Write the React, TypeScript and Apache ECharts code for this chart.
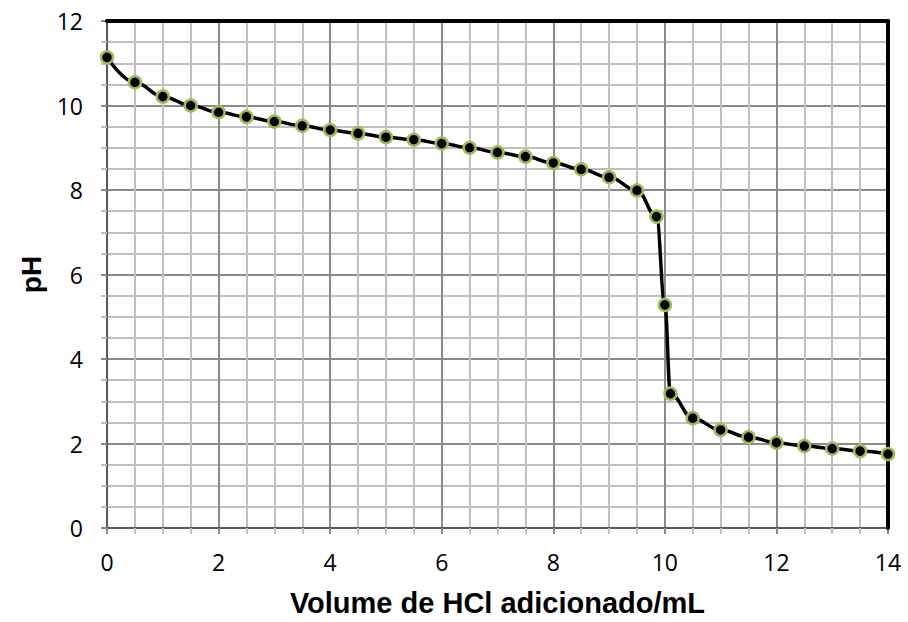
import React, { useEffect, useRef } from "react";
import * as echarts from "echarts";

const volumes = [0, 0.5, 1, 1.5, 2, 2.5, 3, 3.5, 4, 4.5, 5, 5.5, 6, 6.5, 7, 7.5, 8, 8.5, 9, 9.5, 9.85, 10, 10.1, 10.5, 11, 11.5, 12, 12.5, 13, 13.5, 14];
const phValues = [11.14, 10.55, 10.21, 10.0, 9.84, 9.73, 9.62, 9.52, 9.42, 9.34, 9.25, 9.19, 9.1, 9.0, 8.89, 8.79, 8.64, 8.49, 8.3, 7.99, 7.37, 5.28, 3.18, 2.6, 2.32, 2.15, 2.02, 1.94, 1.88, 1.82, 1.75];
const xTitle = "Volume de HCl adicionado/mL";
const yTitle = "pH";

export default function App() {
  const ref = useRef<HTMLDivElement>(null);
  useEffect(() => {
    if (!ref.current) return;
    const chart = echarts.init(ref.current, null, { renderer: "svg" });
    const labelFont = { fontFamily: "Open Sans", fontSize: 23, color: "#000" };
    const major = "#8a8a8a";
    const minor = "#bfbfbf";
    chart.setOption({
      animation: false,
      backgroundColor: "#fff",
      grid: { left: 107, top: 21, right: 20, bottom: 90, containLabel: false },
      xAxis: [
        {
          type: "value",
          min: 0,
          max: 14,
          interval: 2,
          position: "bottom",
          axisLine: { show: true, onZero: false, lineStyle: { color: "#595959", width: 2 } },
          axisTick: { show: true, inside: false, length: 6, lineStyle: { color: major, width: 2 } },
          minorTick: { show: true, splitNumber: 4, length: 6, lineStyle: { color: minor, width: 2 } },
          splitLine: { show: true, lineStyle: { color: major, width: 2 } },
          minorSplitLine: { show: true, lineStyle: { color: minor, width: 2 } },
          axisLabel: { ...labelFont, margin: 22 },
          name: xTitle,
          nameLocation: "middle",
          nameGap: 60,
          nameTextStyle: { fontFamily: "Liberation Sans", fontWeight: "bold", fontSize: 29, color: "#000" },
        },
        {
          type: "value",
          min: 0,
          max: 14,
          interval: 2,
          position: "top",
          z: 5,
          axisLine: { show: true, onZero: false, lineStyle: { color: "#000", width: 4 } },
          axisTick: { show: false },
          axisLabel: { show: false },
          splitLine: { show: false },
        },
      ],
      yAxis: [
        {
          type: "value",
          min: 0,
          max: 12,
          interval: 2,
          position: "left",
          axisLine: { show: true, onZero: false, lineStyle: { color: "#595959", width: 2 } },
          axisTick: { show: true, inside: false, length: 6, lineStyle: { color: major, width: 2 } },
          minorTick: { show: true, splitNumber: 4, length: 6, lineStyle: { color: minor, width: 2 } },
          splitLine: { show: true, lineStyle: { color: major, width: 2 } },
          minorSplitLine: { show: true, lineStyle: { color: minor, width: 2 } },
          axisLabel: { ...labelFont, margin: 24 },
          name: yTitle,
          nameLocation: "middle",
          nameGap: 60,
          nameRotate: 90,
          nameTextStyle: { fontFamily: "Liberation Sans", fontWeight: "bold", fontSize: 28, color: "#000" },
        },
        {
          type: "value",
          min: 0,
          max: 12,
          interval: 2,
          position: "right",
          z: 5,
          axisLine: { show: true, onZero: false, lineStyle: { color: "#000", width: 4 } },
          axisTick: { show: false },
          axisLabel: { show: false },
          splitLine: { show: false },
        },
      ],
      series: [
        {
          type: "line",
          xAxisIndex: 0,
          yAxisIndex: 0,
          data: volumes.map((v, i) => [v, phValues[i]]),
          smooth: 0.4,
          smoothMonotone: "x",
          clip: false,
          z: 10,
          lineStyle: { color: "#000", width: 3.5 },
          symbol: "circle",
          symbolSize: 12,
          itemStyle: { color: "#000", borderColor: "#9bbb59", borderWidth: 2.5 },
        },
      ],
    });
    return () => chart.dispose();
  }, []);
  return <div ref={ref} style={{ position: "fixed", left: 0, top: 0, width: 908, height: 622 }} />;
}
